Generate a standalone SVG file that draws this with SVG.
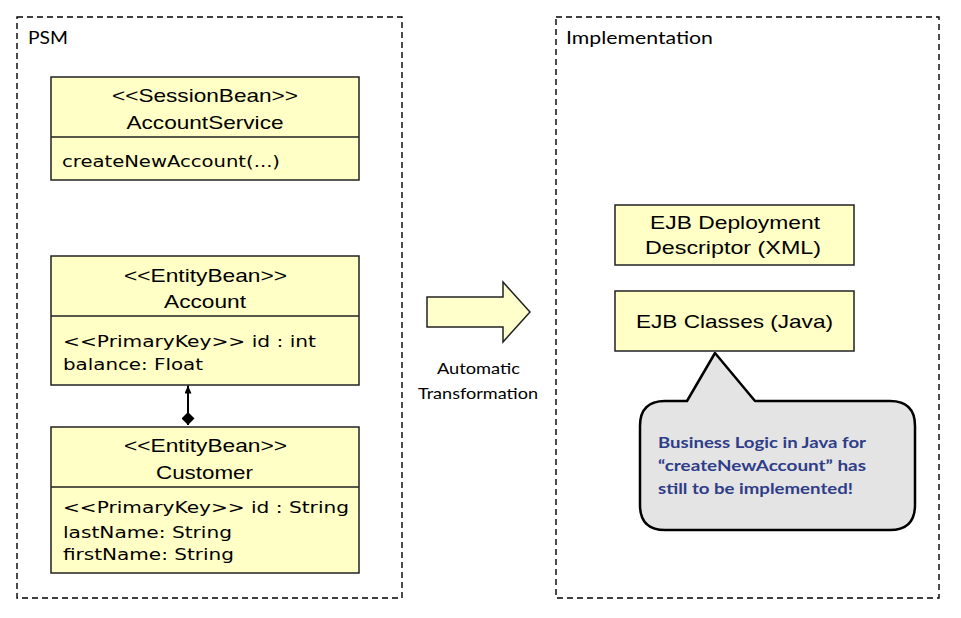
<svg xmlns="http://www.w3.org/2000/svg" width="961" height="618" viewBox="0 0 961 618">
<style>
.frame{fill:none;stroke:#000;stroke-width:1.4;stroke-dasharray:6 4}
.box{fill:#ffffc6;stroke:#222;stroke-width:1.5}
.div{stroke:#222;stroke-width:1.5}
.hdr{font-family:"Liberation Sans",Arial,sans-serif;font-size:19px;fill:#000;text-anchor:middle}
.attr{font-family:"DejaVu Sans",Verdana,sans-serif;font-size:16px;fill:#000}
.lbl{font-family:Lato,"Open Sans",sans-serif;fill:#000}
.note{font-family:Lato,"Open Sans",sans-serif;font-weight:bold;font-size:15.5px;fill:#2f3d88}
</style>
<defs>
<marker id="arrow" viewBox="0 0 8 7" refX="8" refY="3.5" markerWidth="8" markerHeight="7" markerUnits="userSpaceOnUse" orient="auto">
<path d="M0,0 L8,3.5 L0,7 z" fill="#000"/>
</marker>
<marker id="diamond" viewBox="0 0 14 14" refX="0" refY="7" markerWidth="13" markerHeight="13" markerUnits="userSpaceOnUse" orient="auto">
<path d="M0,7 L7,0 L14,7 L7,14 z" fill="#000"/>
</marker>
</defs>
<rect width="961" height="618" fill="#fff"/>

<g id="psm-frame">
<rect class="frame" x="17" y="17" width="385" height="581"/>
<text class="lbl" x="28" y="44" font-size="17" textLength="40" lengthAdjust="spacingAndGlyphs">PSM</text>
</g>

<g id="impl-frame">
<rect class="frame" x="556" y="17" width="383" height="581"/>
<text class="lbl" x="566" y="44" font-size="17" textLength="147" lengthAdjust="spacingAndGlyphs">Implementation</text>
</g>

<g id="account-service">
<rect class="box" x="51" y="77" width="308" height="103"/>
<line class="div" x1="51" y1="137" x2="359" y2="137"/>
<text class="hdr" x="205" y="102" textLength="186" lengthAdjust="spacingAndGlyphs">&lt;&lt;SessionBean&gt;&gt;</text>
<text class="hdr" x="205" y="129" font-size="20" textLength="157" lengthAdjust="spacingAndGlyphs">AccountService</text>
<text class="attr" x="62" y="167" textLength="218" lengthAdjust="spacingAndGlyphs">createNewAccount(...)</text>
</g>

<g id="account">
<rect class="box" x="51" y="256" width="308" height="129"/>
<line class="div" x1="51" y1="316" x2="359" y2="316"/>
<text class="hdr" x="205.5" y="282" textLength="163" lengthAdjust="spacingAndGlyphs">&lt;&lt;EntityBean&gt;&gt;</text>
<text class="hdr" x="205" y="308" font-size="20" textLength="82" lengthAdjust="spacingAndGlyphs">Account</text>
<text class="attr" x="63" y="347" textLength="253" lengthAdjust="spacingAndGlyphs">&lt;&lt;PrimaryKey&gt;&gt; id : int</text>
<text class="attr" x="63" y="370" textLength="140" lengthAdjust="spacingAndGlyphs">balance: Float</text>
</g>

<g id="customer">
<rect class="box" x="51" y="427" width="308" height="146"/>
<line class="div" x1="51" y1="487" x2="359" y2="487"/>
<text class="hdr" x="205.5" y="452" textLength="163" lengthAdjust="spacingAndGlyphs">&lt;&lt;EntityBean&gt;&gt;</text>
<text class="hdr" x="204.5" y="479" font-size="20" textLength="97" lengthAdjust="spacingAndGlyphs">Customer</text>
<text class="attr" x="63" y="513" textLength="286" lengthAdjust="spacingAndGlyphs">&lt;&lt;PrimaryKey&gt;&gt; id : String</text>
<text class="attr" x="63" y="538" textLength="169" lengthAdjust="spacingAndGlyphs">lastName: String</text>
<text class="attr" x="63" y="560" textLength="171" lengthAdjust="spacingAndGlyphs">firstName: String</text>
</g>

<g id="transformation">
<polygon points="427,297 503,297 503,282 530,312 503,342 503,327 427,327" fill="#ffffcc" stroke="#222" stroke-width="1.5" stroke-linejoin="miter"/>
<text class="lbl" x="478.5" y="374" font-size="16" text-anchor="middle" textLength="83" lengthAdjust="spacingAndGlyphs">Automatic</text>
<text class="lbl" x="478" y="399" font-size="16" text-anchor="middle" textLength="120" lengthAdjust="spacingAndGlyphs">Transformation</text>
</g>

<g id="deployment-descriptor">
<rect class="box" x="615" y="205" width="239" height="60"/>
<text class="hdr" x="735" y="229" font-size="20" textLength="170" lengthAdjust="spacingAndGlyphs">EJB Deployment</text>
<text class="hdr" x="733" y="254" font-size="20" textLength="176" lengthAdjust="spacingAndGlyphs">Descriptor (XML)</text>
</g>

<g id="ejb-classes">
<rect class="box" x="615" y="291" width="239" height="60"/>
<text class="hdr" x="734.5" y="328" font-size="20" textLength="197" lengthAdjust="spacingAndGlyphs">EJB Classes (Java)</text>
</g>

<g id="callout">
<path d="M665,401 L687,401 L715,353 L755,401 L890,401 Q915,401 915,426 L915,505 Q915,530 890,530 L665,530 Q640,530 640,505 L640,426 Q640,401 665,401 Z" fill="#e4e4e4" stroke="#000" stroke-width="2.5" stroke-linejoin="round"/>
<text class="note" x="658" y="448" textLength="208" lengthAdjust="spacingAndGlyphs">Business Logic in Java for</text>
<text class="note" x="658" y="471" textLength="208" lengthAdjust="spacingAndGlyphs">“createNewAccount” has</text>
<text class="note" x="658" y="494" textLength="195" lengthAdjust="spacingAndGlyphs">still to be implemented!</text>
</g>

<g id="connectors">
<line x1="188" y1="425" x2="188" y2="385.5" stroke="#000" stroke-width="2" marker-start="url(#diamond)" marker-end="url(#arrow)"/>
</g>
</svg>
